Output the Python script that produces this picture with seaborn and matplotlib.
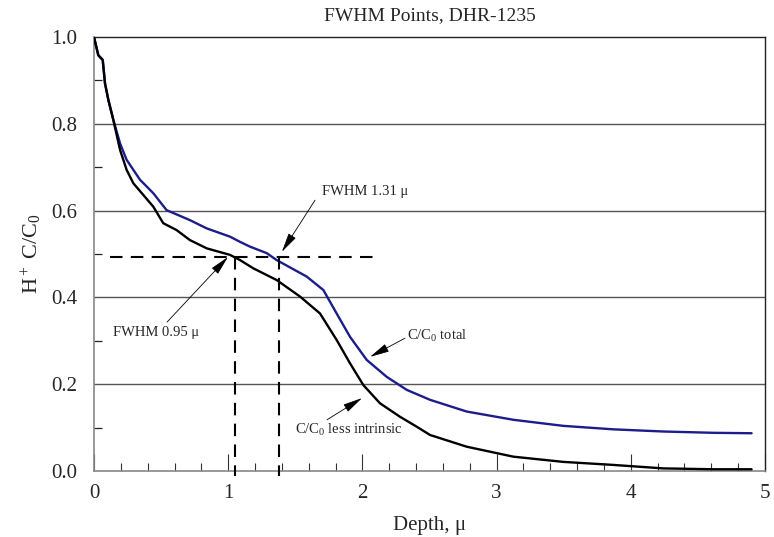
import numpy as np
import pandas as pd
import matplotlib
matplotlib.use("Agg")
import matplotlib.pyplot as plt
import seaborn as sns
from matplotlib.ticker import MultipleLocator

# ---- data ----
depth_total = [0, 0.032, 0.065, 0.082, 0.107, 0.144, 0.194, 0.243, 0.343, 0.442, 0.541,
               0.715, 0.84, 1.013, 1.088, 1.162, 1.287, 1.361, 1.585, 1.709, 1.808, 1.908,
               2.032, 2.181, 2.33, 2.504, 2.777, 3.125, 3.497, 3.87, 4.242, 4.615, 4.90]
c_total = [1.0, 0.958, 0.947, 0.893, 0.855, 0.809, 0.755, 0.717, 0.671, 0.64, 0.601,
           0.578, 0.559, 0.54, 0.528, 0.517, 0.502, 0.486, 0.448, 0.417, 0.363, 0.309,
           0.256, 0.217, 0.187, 0.164, 0.137, 0.118, 0.104, 0.096, 0.091, 0.088, 0.087]

depth_less = [0, 0.032, 0.065, 0.082, 0.107, 0.144, 0.194, 0.243, 0.293, 0.442, 0.516,
              0.616, 0.715, 0.84, 1.013, 1.088, 1.187, 1.361, 1.535, 1.684, 1.808, 1.908,
              2.007, 2.131, 2.28, 2.405, 2.504, 2.777, 3.125, 3.497, 3.87, 4.242, 4.615, 4.90]
c_less = [1.0, 0.958, 0.947, 0.893, 0.855, 0.809, 0.74, 0.694, 0.663, 0.609, 0.571,
          0.555, 0.532, 0.513, 0.498, 0.486, 0.467, 0.44, 0.402, 0.363, 0.302, 0.248,
          0.198, 0.156, 0.125, 0.102, 0.083, 0.056, 0.033, 0.021, 0.014, 0.006, 0.004, 0.004]

half_level = 0.493
fwhm_less_x = 1.05
fwhm_total_x = 1.38
half_line_x = [0.12, 2.11]

title = "FWHM Points, DHR-1235"
x_label = "Depth, \u03bc"
y_label = r"H$^+$ C/C$_0$"
x_ticks = [0, 1, 2, 3, 4, 5]
y_ticks = [0.0, 0.2, 0.4, 0.6, 0.8, 1.0]

# ---- style ----
sns.set_theme(style="white")
plt.rcParams["font.family"] = ["Liberation Serif", "DejaVu Serif"]
plt.rcParams["mathtext.fontset"] = "custom"
plt.rcParams["mathtext.rm"] = "Liberation Serif"
plt.rcParams["mathtext.it"] = "Liberation Serif:italic"
plt.rcParams["mathtext.bf"] = "Liberation Serif:bold"

fig = plt.figure(figsize=(7.74, 5.37), dpi=100)
ax = fig.add_axes([94 / 774, 1 - 471 / 537, (765 - 94) / 774, (471 - 37) / 537])

df = pd.concat([
    pd.DataFrame({"depth": depth_total, "c": c_total, "series": "total"}),
    pd.DataFrame({"depth": depth_less, "c": c_less, "series": "less"}),
])
sns.lineplot(data=df, x="depth", y="c", hue="series", palette={"total": "#1c1c8a", "less": "black"},
             estimator=None, sort=False, linewidth=1.7, legend=False, ax=ax, zorder=3)

# grid lines
for yv in [0.2, 0.4, 0.6, 0.8]:
    ax.axhline(yv, color="#555555", lw=1.0, zorder=1)

# dashed FWHM lines
dash = (0, (6, 4))
ax.plot(half_line_x, [half_level, half_level], color="black", lw=1.5, linestyle=dash, zorder=4)
for xv in [fwhm_less_x, fwhm_total_x]:
    ax.plot([xv, xv], [half_level, -0.012], color="black", lw=1.5, linestyle=dash, zorder=4,
            clip_on=False)

ax.set_xlim(0, 5)
ax.set_ylim(0, 1.0)
ax.set_xticks(x_ticks)
ax.set_xticklabels([str(t) for t in x_ticks])
ax.set_yticks(y_ticks)
ax.set_yticklabels([f"{t:.1f}" for t in y_ticks])
ax.xaxis.set_minor_locator(MultipleLocator(0.2))
ax.yaxis.set_minor_locator(MultipleLocator(0.1))

ax.tick_params(axis="x", which="major", direction="in", length=12, width=0.8, color="#333333",
               labelsize=15, pad=9, bottom=True)
ax.tick_params(axis="x", which="minor", direction="in", length=6, width=0.8, color="#333333",
               bottom=True)
ax.tick_params(axis="y", which="major", direction="in", length=0, labelsize=15, pad=12, left=True)
ax.tick_params(axis="y", which="minor", direction="in", length=6, width=0.9, color="#222222",
               left=True)

for side in ["left", "bottom"]:
    ax.spines[side].set_color("#888888")
    ax.spines[side].set_linewidth(1.2)
for side in ["top", "right"]:
    ax.spines[side].set_color("#222222")
    ax.spines[side].set_linewidth(1.0)

ax.set_title(title, fontsize=14, pad=12)
ax.set_xlabel(x_label, fontsize=15, labelpad=10)
ax.set_ylabel(y_label, fontsize=16, labelpad=5)

arrow = dict(arrowstyle="-|>,head_length=1.0,head_width=0.22", color="black", lw=0.6,
             shrinkA=0, shrinkB=0)
ann_fs = 10.5
ax.annotate("", xy=(1.40, 0.505), xytext=(1.647, 0.624), arrowprops=arrow, zorder=5)
ax.text(1.70, 0.643, "FWHM 1.31 \u03bc", fontsize=ann_fs, ha="left", va="center")

ax.annotate("", xy=(0.998, 0.493), xytext=(0.544, 0.343), arrowprops=arrow, zorder=5)
ax.text(0.14, 0.318, "FWHM 0.95 \u03bc", fontsize=ann_fs, ha="left", va="center")

ax.annotate("", xy=(2.057, 0.263), xytext=(2.317, 0.306), arrowprops=arrow, zorder=5)
ax.text(2.33, 0.311, r"C/C$_0$ total", fontsize=ann_fs, ha="left", va="center")

ax.annotate("", xy=(1.997, 0.168), xytext=(1.736, 0.118), arrowprops=arrow, zorder=5)
ax.text(1.498, 0.094, r"C/C$_0$ less intrinsic", fontsize=ann_fs, ha="left", va="center")

fig.savefig("out.png", dpi=100)
